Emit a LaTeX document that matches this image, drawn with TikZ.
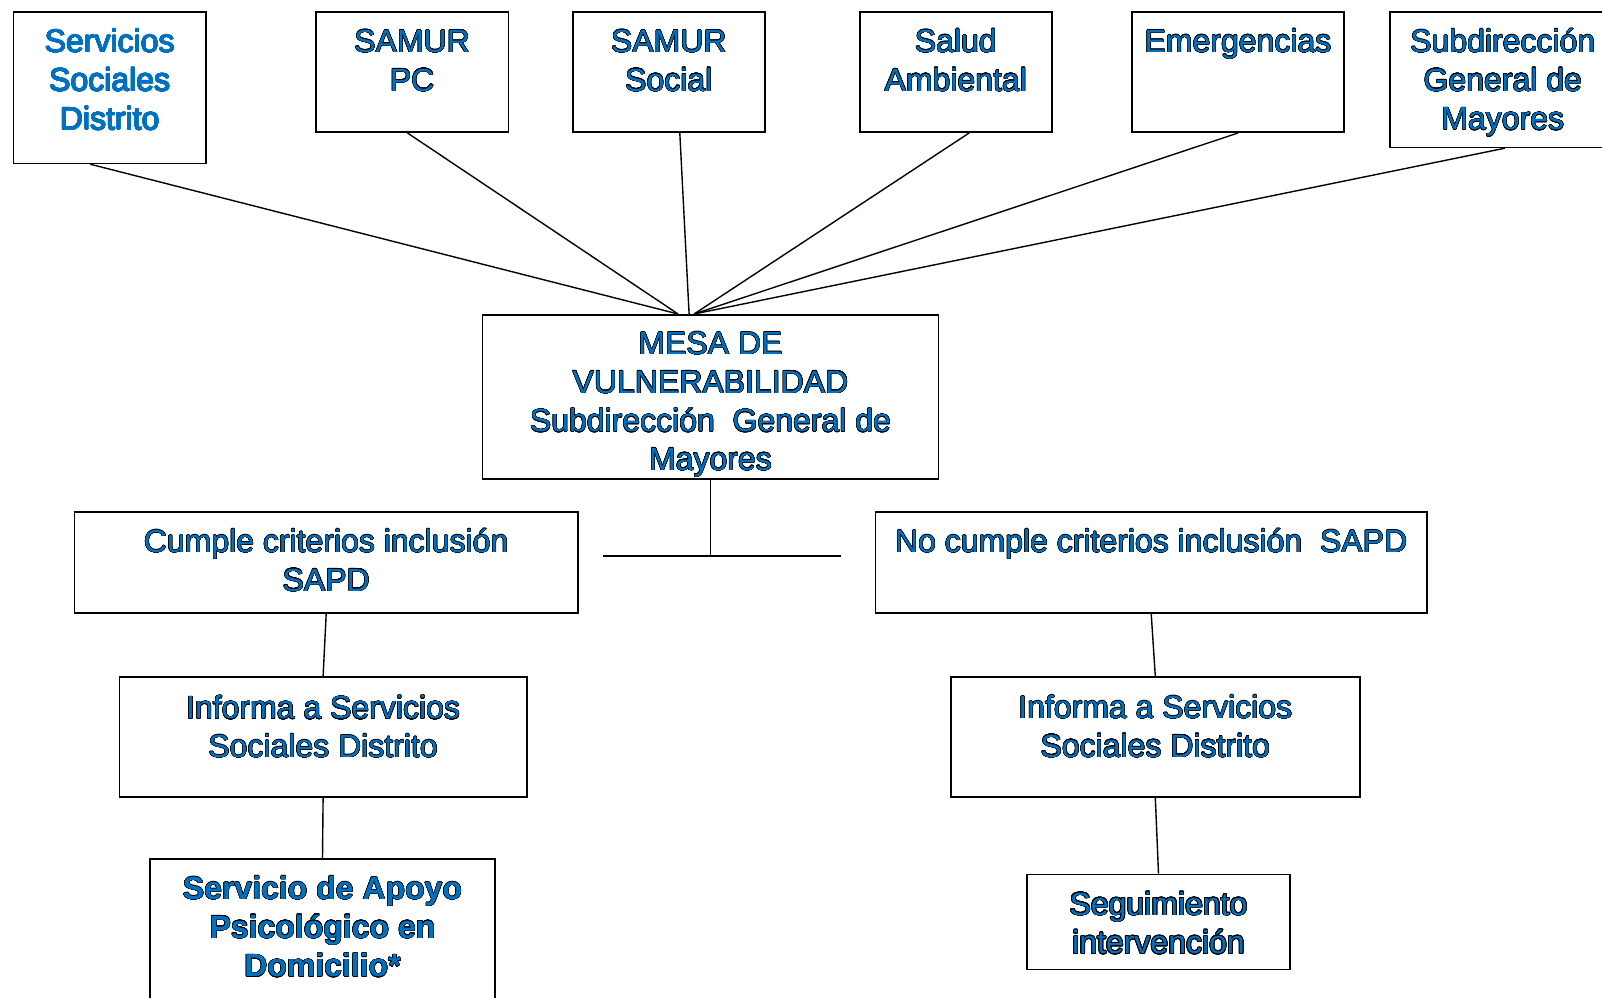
\documentclass[tikz,border=0pt]{standalone}
\usepackage{fontspec}
\setmainfont{Liberation Sans}
\usepackage{xcolor}
\usepackage{contour}
\usetikzlibrary{calc}

\definecolor{txtblue}{HTML}{0070C0}
\contourlength{0.22pt}
\contournumber{24}
\newcommand{\outl}[1]{\contour{black}{#1}}
\newcommand{\thickoutl}[1]{{\contourlength{0.45pt}\contour{black}{#1}}}
\newcommand{\blueoutl}[1]{{\contourlength{0.22pt}\contour{txtblue}{#1}}}

\tikzset{
  box/.style={draw, line width=0.8pt, anchor=north west, inner sep=0pt},
  txt/.style={anchor=north, inner sep=0pt, align=center, text=txtblue,
    font=\fontsize{16}{19.3}\selectfont},
  link/.style={line width=0.7pt}
}

\begin{document}
\begin{tikzpicture}[x=0.5pt,y=-0.5pt]
\useasboundingbox (0,0) rectangle (1602,997);

% top row
\node[box, minimum width=96.2pt, minimum height=75.8pt] (ssd) at (12.7,11) {};
\node[box, minimum width=96.3pt, minimum height=60.2pt] (pc) at (315,11) {};
\node[box, minimum width=96pt, minimum height=60.2pt] (social) at (572,11) {};
\node[box, minimum width=96pt, minimum height=60.2pt] (salud) at (859,11) {};
\node[box, minimum width=106.2pt, minimum height=60.2pt] (emerg) at (1131,11) {};
\node[box, minimum width=113pt, minimum height=67.8pt] (sgm) at (1389,11) {};

\node[txt] (ssd-t) at ($(ssd.north)+(0,14)$) {\strut\blueoutl{Servicios}\\\blueoutl{Sociales}\\\blueoutl{Distrito}};
\node[txt] (pc-t) at ($(pc.north)+(0,14)$) {\strut\outl{SAMUR}\\\outl{PC}};
\node[txt] (social-t) at ($(social.north)+(0,14)$) {\strut\outl{SAMUR}\\\outl{Social}};
\node[txt] (salud-t) at ($(salud.north)+(0,14)$) {\strut\outl{Salud}\\\outl{Ambiental}};
\node[txt] (emerg-t) at ($(emerg.north)+(0,14)$) {\strut\outl{Emergencias}};
\node[txt] (sgm-t) at ($(sgm.north)+(0,14)$) {\strut\outl{Subdirección}\\\outl{General de}\\\outl{Mayores}};

% mesa
\node[box, minimum width=228pt, minimum height=82pt] (mesa) at (481.7,314) {};
\node[txt] (mesa-t) at ($(mesa.north)+(0,13)$) {\strut\outl{MESA DE}\\\outl{VULNERABILIDAD}\\
  \outl{Subdirección\ \ General de}\\\outl{Mayores}};

\draw[link] ($(ssd.south)+(-19.5,0)$) -- ($(mesa.north)+(-32.4,0)$);
\draw[link] ($(pc.south)+(-4.6,0)$) -- ($(mesa.north)+(-32.4,0)$);
\draw[link] ($(social.south)+(11,0)$) -- ($(mesa.north)+(-21.4,0)$);
\draw[link] ($(salud.south)+(13.3,0)$) -- ($(mesa.north)+(-16.4,0)$);
\draw[link] (emerg.south) -- ($(mesa.north)+(-16.4,0)$);
\draw[link] ($(sgm.south)+(2,0)$) -- ($(mesa.north)+(-16.4,0)$);

% split
\coordinate (brL) at (602.7,556);
\coordinate (brR) at (841,556);
\draw[link] (mesa.south) -- (mesa.south |- brL);
\draw[link] (brL) -- (brR);

\node[box, minimum width=251.8pt, minimum height=50.5pt] (cumple) at (73.6,511) {};
\node[box, minimum width=275.8pt, minimum height=50.5pt] (nocumple) at (874.6,511) {};
\node[txt] (cumple-t) at ($(cumple.north)+(0,14)$) {\strut\outl{Cumple criterios inclusión}\\\outl{SAPD}};
\node[txt] (nocumple-t) at ($(nocumple.north)+(0,14)$) {\strut\outl{No cumple criterios inclusión\ \ SAPD}};

% left branch
\node[box, minimum width=203.8pt, minimum height=59.8pt] (infoL) at (118.5,676.4) {};
\node[txt] (infoL-t) at ($(infoL.north)+(0,15)$) {\strut\outl{Informa a Servicios}\\\outl{Sociales Distrito}};
\node[box, minimum width=172.7pt, minimum height=80pt] (sapd) at (149,858) {};
\node[txt, font=\fontsize{16}{19.3}\selectfont\bfseries] (sapd-t) at ($(sapd.north)+(0,14)$)
  {\strut\outl{Servicio de Apoyo}\\\outl{Psicológico en}\\\outl{Domicilio*}};

\draw[link] (cumple.south) -- (infoL.north);
\draw[link] (infoL.south) -- (sapd.north);

% right branch
\node[box, minimum width=204.5pt, minimum height=60pt] (infoR) at (950,676) {};
\node[txt] (infoR-t) at ($(infoR.north)+(0,15)$) {\strut\outl{Informa a Servicios}\\\outl{Sociales Distrito}};
\node[box, minimum width=131.7pt, minimum height=47.5pt] (seg) at (1026,873.6) {};
\node[txt] (seg-t) at ($(seg.north)+(0,14)$) {\strut\thickoutl{Seguimiento}\\\thickoutl{intervención}};

\draw[link] (nocumple.south) -- (infoR.north);
\draw[link] (infoR.south) -- (seg.north);
\end{tikzpicture}
\end{document}
